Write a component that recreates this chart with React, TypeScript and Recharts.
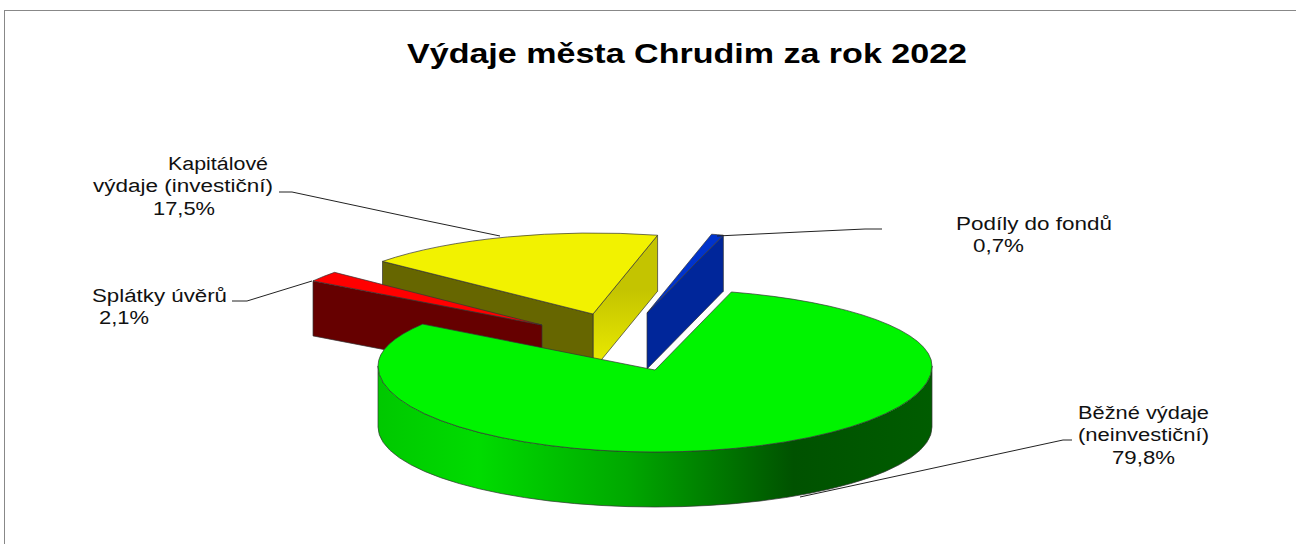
import { PieChart, Pie } from "recharts";

// drawing order of the pie, counter-clockwise from the blue sliver
const categories = ["Podíly do fondů", "Kapitálové výdaje (investiční)", "Splátky úvěrů", "Běžné výdaje (neinvestiční)"];
const values = [0.7, 17.5, 2.1, 79.8];
const chartTitle = "Výdaje města Chrudim za rok 2022";

const data = categories.map((name, i) => ({ name, value: values[i] }));

const PIE_X = 655;
const PIE_Y = 370;
const PIE_R = 277;
const START_ANGLE = 74;

// the fake 3d look: where each exploded wedge sits and how it is shaded.
// ry is the back half of the ellipse, ryFront the nearer half (perspective)
const wedges = [
  { dx: -8, dy: -57, rxAdj: 0, ry: 81, ryFront: 81, lift: 0, depth: 56, bottomRy: 81, top: "#0033cc", startFace: "#00269a", endFace: "#00269a", rim: "#00269a" },
  { dx: -62, dy: -56, rxAdj: 0, ry: 81, ryFront: 81, lift: 0, depth: 56, bottomRy: 81, top: "#f2f200", startFace: "url(#yellowFace)", endFace: "#666600", rim: "#666600" },
  { dx: -113, dy: -45, rxAdj: -4, ry: 81, ryFront: 81, lift: 0, depth: 55, bottomRy: 81, top: "#ff0000", startFace: "#660000", endFace: "#660000", rim: "#660000" },
  { dx: 0, dy: 0, rxAdj: 0, ry: 77, ryFront: 86, lift: -4, depth: 61, bottomRy: 80, top: "#00f400", startFace: "#006000", endFace: "#006000", rim: "url(#greenRim)" },
];

const labelLayout = [
  {
    lines: [{ text: "Podíly do fondů", x: 956, y: 230, w: 156 }],
    pct: { x: 973, y: 252, w: 51 },
    leader: "717,236 800,232 865,229 882,229",
  },
  {
    lines: [
      { text: "Kapitálové", x: 168, y: 170, w: 100 },
      { text: "výdaje (investiční)", x: 93, y: 192, w: 180 },
    ],
    pct: { x: 153, y: 215, w: 62 },
    leader: "279,192 292,192 423,220 500,236",
  },
  {
    lines: [{ text: "Splátky úvěrů", x: 92, y: 302, w: 135 }],
    pct: { x: 99, y: 324, w: 50 },
    leader: "232,301 247,301 312,281",
  },
  {
    lines: [
      { text: "Běžné výdaje", x: 1078, y: 419, w: 131 },
      { text: "(neinvestiční)", x: 1078, y: 441, w: 131 },
    ],
    pct: { x: 1112, y: 464, w: 63 },
    leader: "1072,440 1063,440 800,497",
  },
];

const rad = (a: number) => (a * Math.PI) / 180;

function Wedge3D(props: any) {
  const { cx, cy, outerRadius, startAngle, endAngle, index } = props;
  const w = wedges[index];
  const rx = outerRadius + w.rxAdj;
  const apexX = cx + w.dx;
  const apexY = cy + w.dy;
  const ey = apexY + w.lift;
  const isBack = (a: number) => Math.sin(rad(a)) >= 0;
  const pt = (a: number) => [apexX + rx * Math.cos(rad(a)), ey - (isBack(a) ? w.ry : w.ryFront) * Math.sin(rad(a))];
  const [sx, sy] = pt(startAngle);
  const [bx, by] = pt(endAngle);

  // back and front halves have different radii, so break the arc at the sides
  const breaks = [180, 360].filter((a) => a > startAngle && a < endAngle);
  const stops = [startAngle, ...breaks, endAngle];
  let arc = "";
  for (let i = 1; i < stops.length; i++) {
    const mid = (stops[i - 1] + stops[i]) / 2;
    const [x, y] = pt(stops[i]);
    arc += ` A${rx},${isBack(mid) ? w.ry : w.ryFront} 0 0 0 ${x},${y}`;
  }
  const top = `M${apexX},${apexY} L${sx},${sy}${arc} Z`;

  const sideFace = (x: number, y: number) =>
    `M${apexX},${apexY} L${x},${y} L${x},${y + w.depth} L${apexX},${apexY + w.depth} Z`;
  const startVisible = Math.sin(rad(startAngle - 90)) < 0;
  const endVisible = Math.sin(rad(endAngle + 90)) < 0;

  // outer wall only where the arc faces the viewer
  const wallFrom = Math.max(startAngle, 180);
  const wallTo = Math.min(endAngle, 360);
  let wall = null;
  if (wallTo > wallFrom) {
    const [ax, ay] = pt(wallFrom);
    const [zx, zy] = pt(wallTo);
    wall = `M${ax},${ay} A${rx},${w.ryFront} 0 0 0 ${zx},${zy} L${zx},${zy + w.depth} A${rx},${w.bottomRy} 0 0 1 ${ax},${ay + w.depth} Z`;
  }

  return (
    <g stroke="#333" strokeWidth={0.7} strokeLinejoin="round">
      {startVisible && <path d={sideFace(sx, sy)} fill={w.startFace} />}
      {endVisible && <path d={sideFace(bx, by)} fill={w.endFace} />}
      {wall && <path d={wall} fill={w.rim} />}
      <path d={top} fill={w.top} />
    </g>
  );
}

function SliceLabel(props: any) {
  const { index } = props;
  const l = labelLayout[index];
  const pct = values[index].toFixed(1).replace(".", ",") + "%";
  return (
    <g fontFamily="Liberation Sans" fontSize={18} fill="#111">
      <polyline points={l.leader} fill="none" stroke="#222" strokeWidth={1} />
      {l.lines.map((t) => (
        <text key={t.text} x={t.x} y={t.y} textLength={t.w} lengthAdjust="spacingAndGlyphs">
          {t.text}
        </text>
      ))}
      <text x={l.pct.x} y={l.pct.y} textLength={l.pct.w} lengthAdjust="spacingAndGlyphs">
        {pct}
      </text>
    </g>
  );
}

export default function App() {
  return (
    <div style={{ position: "absolute", left: 0, top: 0, width: 1296, height: 544, background: "#fff", overflow: "hidden" }}>
      <div style={{ position: "absolute", left: 4, top: 10, right: 0, bottom: 0, borderTop: "1px solid #888", borderLeft: "1px solid #888" }} />
      <PieChart width={1296} height={544} margin={{ top: 0, right: 0, bottom: 0, left: 0 }} style={{ position: "absolute", left: 0, top: 0 }}>
        <defs>
          <linearGradient id="greenRim" gradientUnits="userSpaceOnUse" x1={378} y1={0} x2={932} y2={0}>
            <stop offset="0%" stopColor="#00c800" />
            <stop offset="18%" stopColor="#00dc00" />
            <stop offset="45%" stopColor="#00a800" />
            <stop offset="75%" stopColor="#005200" />
            <stop offset="100%" stopColor="#005c00" />
          </linearGradient>
          <linearGradient id="yellowFace" gradientUnits="userSpaceOnUse" x1={0} y1={290} x2={0} y2={360}>
            <stop offset="0%" stopColor="#c4c400" />
            <stop offset="100%" stopColor="#e8e800" />
          </linearGradient>
        </defs>
        <text x={687} y={63} textAnchor="middle" fontFamily="Liberation Sans" fontWeight="bold" fontSize={28} fill="#000" textLength={560} lengthAdjust="spacingAndGlyphs">
          {chartTitle}
        </text>
        <Pie
          data={data}
          dataKey="value"
          nameKey="name"
          cx={PIE_X}
          cy={PIE_Y}
          innerRadius={0}
          outerRadius={PIE_R}
          startAngle={START_ANGLE}
          endAngle={START_ANGLE + 360}
          paddingAngle={0}
          shape={Wedge3D}
          label={SliceLabel}
          labelLine={false}
          isAnimationActive={false}
        />
      </PieChart>
    </div>
  );
}
